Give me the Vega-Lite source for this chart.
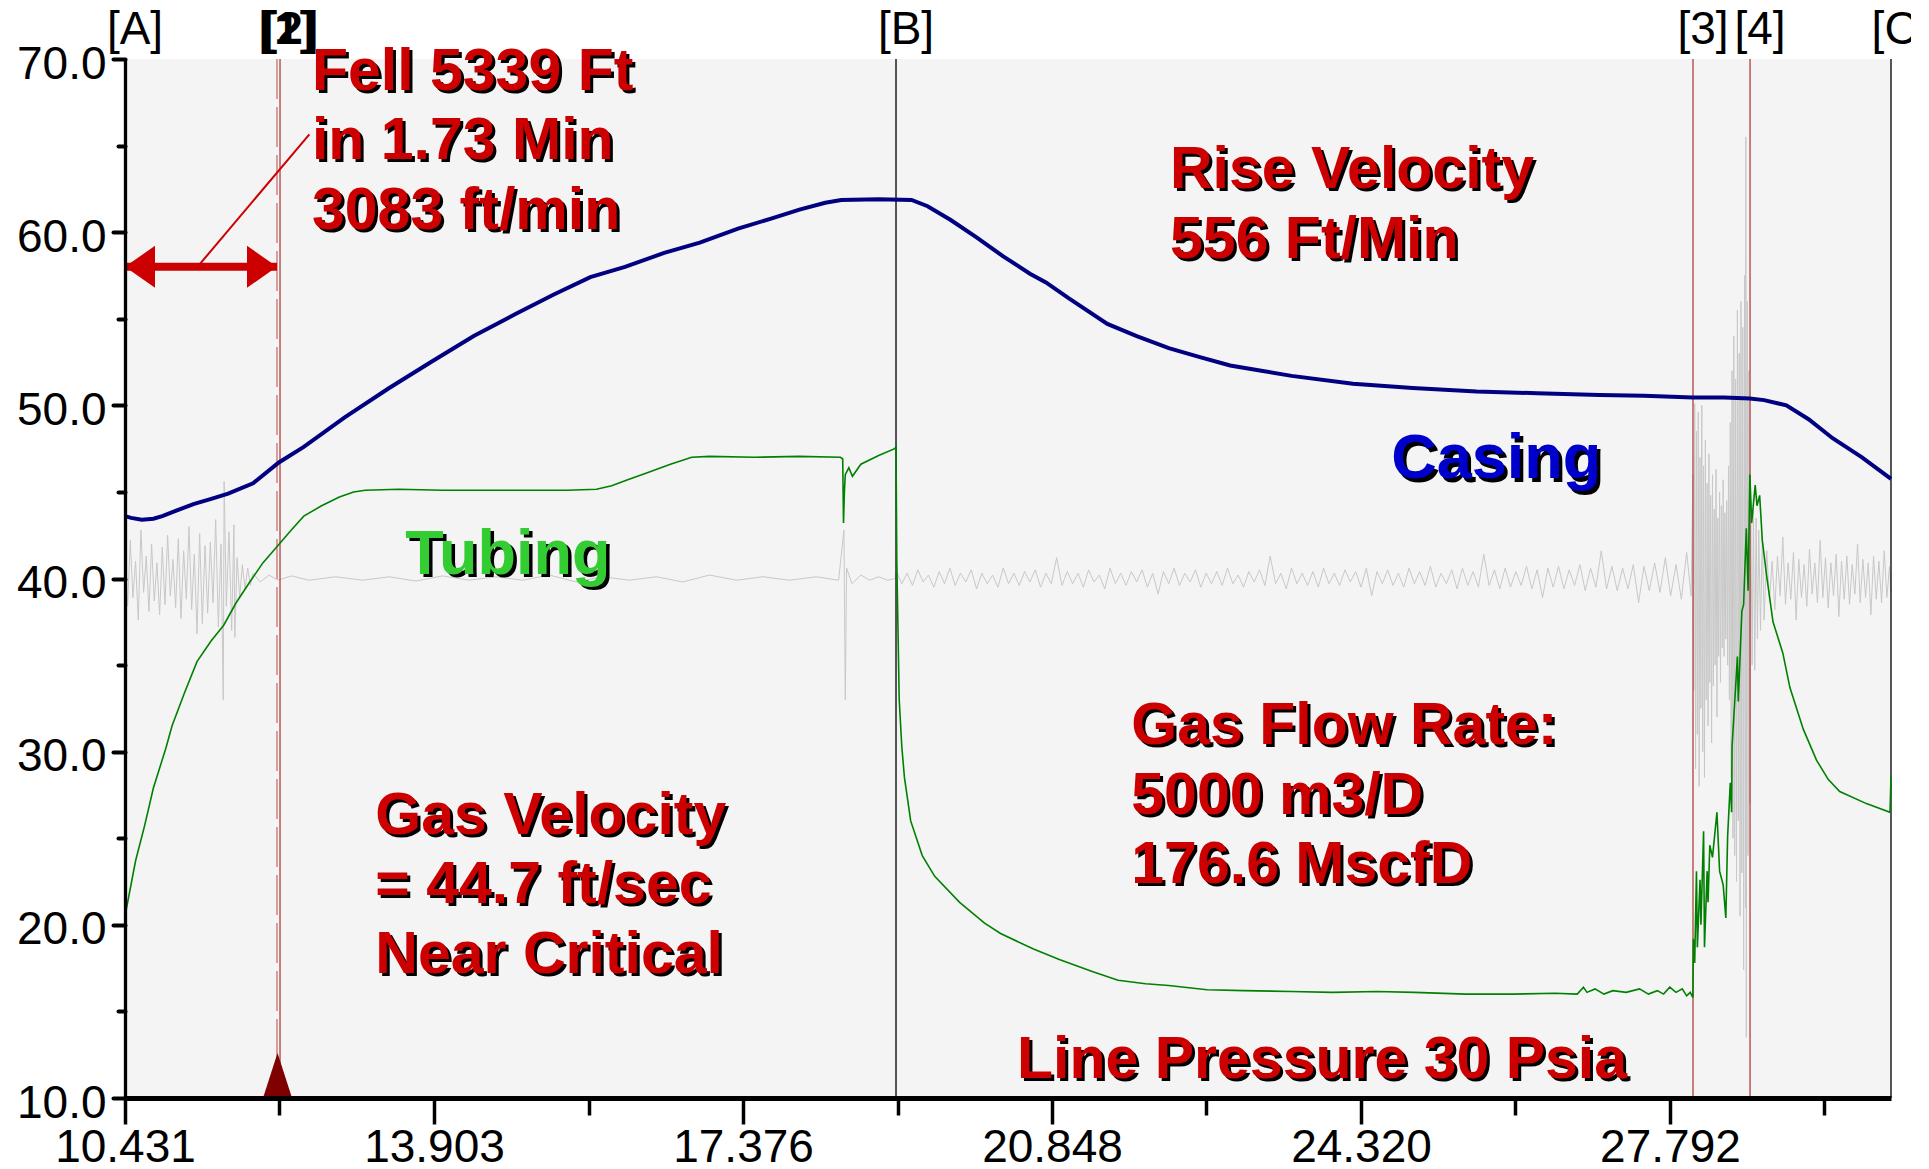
{
  "$schema": "https://vega.github.io/schema/vega-lite/v6.json",
  "width": 1766,
  "height": 1039,
  "autosize": {"type": "none"},
  "padding": {"left": 125, "top": 59, "right": 20, "bottom": 71},
  "background": "#ffffff",
  "config": {"view": {"fill": "#f4f4f4", "stroke": null}, "font": "Liberation Sans"},
  "datasets": {
    "gray": [
      {"t":10.431,"v":41.5},{"t":10.46,"v":38.4},{"t":10.49,"v":42.2},{"t":10.52,"v":38.9},{"t":10.55,"v":41.0},{"t":10.58,"v":37.6},{"t":10.61,"v":42.8},{"t":10.64,"v":39.2},{"t":10.67,"v":41.3},{"t":10.70,"v":38.1},{"t":10.73,"v":42.0},{"t":10.76,"v":38.7},{"t":10.79,"v":40.9},{"t":10.82,"v":37.9},{"t":10.85,"v":41.8},{"t":10.88,"v":38.5},{"t":10.91,"v":42.5},{"t":10.94,"v":39.0},{"t":10.97,"v":41.1},{"t":11.00,"v":38.3},{"t":11.03,"v":42.3},{"t":11.06,"v":37.7},{"t":11.09,"v":41.6},{"t":11.12,"v":38.8},{"t":11.15,"v":43.0},{"t":11.18,"v":38.2},{"t":11.21,"v":41.4},{"t":11.24,"v":36.8},{"t":11.27,"v":42.6},{"t":11.30,"v":37.4},{"t":11.33,"v":41.9},{"t":11.36,"v":38.0},{"t":11.39,"v":42.1},{"t":11.42,"v":38.6},{"t":11.45,"v":43.4},{"t":11.48,"v":37.2},{"t":11.51,"v":42.0},{"t":11.535,"v":33.0},{"t":11.545,"v":45.6},{"t":11.57,"v":38.4},{"t":11.60,"v":42.7},{"t":11.63,"v":37.0},{"t":11.655,"v":43.1},{"t":11.665,"v":36.6},{"t":11.69,"v":41.2},{"t":11.72,"v":38.9},{"t":11.75,"v":40.8},{"t":11.78,"v":39.4},{"t":11.81,"v":40.6},{"t":11.84,"v":39.6},{"t":11.87,"v":40.3},
      {"t":11.95,"v":39.8},{"t":12.05,"v":40.2},{"t":12.15,"v":39.9},{"t":12.3,"v":40.15},{"t":12.5,"v":39.9},{"t":12.8,"v":40.1},{"t":13.1,"v":39.9},{"t":13.4,"v":40.1},{"t":13.7,"v":39.85},{"t":14.0,"v":40.15},{"t":14.3,"v":39.9},{"t":14.6,"v":40.1},{"t":14.9,"v":39.9},{"t":15.2,"v":40.2},{"t":15.5,"v":39.8},{"t":15.8,"v":40.1},{"t":16.1,"v":39.9},{"t":16.4,"v":40.1},{"t":16.7,"v":39.8},{"t":17.0,"v":40.2},{"t":17.3,"v":39.9},{"t":17.6,"v":40.1},{"t":17.9,"v":39.9},{"t":18.2,"v":40.1},{"t":18.45,"v":39.9},{"t":18.51,"v":42.8},{"t":18.525,"v":33.0},{"t":18.54,"v":40.6},{"t":18.6,"v":39.7},{"t":18.7,"v":40.2},{"t":18.8,"v":39.9},{"t":18.9,"v":40.1},{"t":19.0,"v":39.9},{"t":19.09,"v":40.0},
      {"t":19.10,"v":40.4},{"t":19.16,"v":39.7},{"t":19.22,"v":40.3},{"t":19.28,"v":39.6},{"t":19.34,"v":40.5},{"t":19.40,"v":39.8},{"t":19.46,"v":40.2},{"t":19.52,"v":39.5},{"t":19.58,"v":40.4},{"t":19.64,"v":39.7},{"t":19.70,"v":40.6},{"t":19.76,"v":39.6},{"t":19.82,"v":40.3},{"t":19.88,"v":39.8},{"t":19.94,"v":40.5},{"t":20.00,"v":39.4},{"t":20.06,"v":40.3},{"t":20.12,"v":39.7},{"t":20.18,"v":40.2},{"t":20.24,"v":39.5},{"t":20.30,"v":40.6},{"t":20.36,"v":39.7},{"t":20.42,"v":40.3},{"t":20.48,"v":39.6},{"t":20.54,"v":40.4},{"t":20.60,"v":39.8},{"t":20.66,"v":40.5},{"t":20.72,"v":39.5},{"t":20.78,"v":40.3},{"t":20.84,"v":39.7},{"t":20.90,"v":41.2},{"t":20.96,"v":39.6},{"t":21.02,"v":40.4},{"t":21.08,"v":39.7},{"t":21.14,"v":40.3},{"t":21.20,"v":39.5},{"t":21.26,"v":40.5},{"t":21.32,"v":39.8},{"t":21.38,"v":40.2},{"t":21.44,"v":39.4},{"t":21.50,"v":40.6},{"t":21.56,"v":39.7},{"t":21.62,"v":40.3},{"t":21.68,"v":39.6},{"t":21.74,"v":40.4},{"t":21.80,"v":39.8},{"t":21.86,"v":40.5},{"t":21.92,"v":39.5},{"t":21.98,"v":40.3},{"t":22.04,"v":39.1},{"t":22.10,"v":40.4},{"t":22.16,"v":39.7},{"t":22.22,"v":40.6},{"t":22.28,"v":39.6},{"t":22.34,"v":40.3},{"t":22.40,"v":39.8},{"t":22.46,"v":40.5},{"t":22.52,"v":39.5},{"t":22.58,"v":40.3},{"t":22.64,"v":39.7},{"t":22.70,"v":40.4},{"t":22.76,"v":39.6},{"t":22.82,"v":40.6},{"t":22.88,"v":39.7},{"t":22.94,"v":40.2},{"t":23.00,"v":39.5},{"t":23.06,"v":40.4},{"t":23.12,"v":39.8},{"t":23.18,"v":40.5},{"t":23.24,"v":39.6},{"t":23.30,"v":41.3},{"t":23.36,"v":39.7},{"t":23.42,"v":40.3},{"t":23.48,"v":39.4},{"t":23.54,"v":40.6},{"t":23.60,"v":39.7},{"t":23.66,"v":40.3},{"t":23.72,"v":39.6},{"t":23.78,"v":40.4},{"t":23.84,"v":39.5},{"t":23.90,"v":40.6},{"t":23.96,"v":39.7},{"t":24.02,"v":40.3},{"t":24.08,"v":39.6},{"t":24.14,"v":40.5},{"t":24.20,"v":39.8},{"t":24.26,"v":40.4},{"t":24.32,"v":39.5},{"t":24.38,"v":40.6},{"t":24.44,"v":39.0},{"t":24.50,"v":40.4},{"t":24.56,"v":39.7},{"t":24.62,"v":40.5},{"t":24.68,"v":39.6},{"t":24.74,"v":40.3},{"t":24.80,"v":39.5},{"t":24.86,"v":40.6},{"t":24.92,"v":39.7},{"t":24.98,"v":40.4},{"t":25.04,"v":39.6},{"t":25.10,"v":40.7},{"t":25.16,"v":39.5},{"t":25.22,"v":40.3},{"t":25.28,"v":39.7},{"t":25.34,"v":40.5},{"t":25.40,"v":39.4},{"t":25.46,"v":40.6},{"t":25.52,"v":39.6},{"t":25.58,"v":40.4},{"t":25.64,"v":39.5},{"t":25.70,"v":41.4},{"t":25.76,"v":39.6},{"t":25.82,"v":40.5},{"t":25.88,"v":39.4},{"t":25.94,"v":40.6},{"t":26.00,"v":39.5},{"t":26.06,"v":40.4},{"t":26.12,"v":39.6},{"t":26.18,"v":40.7},{"t":26.24,"v":39.4},{"t":26.30,"v":40.5},{"t":26.36,"v":38.9},{"t":26.42,"v":40.6},{"t":26.48,"v":39.5},{"t":26.54,"v":40.7},{"t":26.60,"v":39.4},{"t":26.66,"v":40.5},{"t":26.72,"v":39.6},{"t":26.78,"v":40.8},{"t":26.84,"v":39.3},{"t":26.90,"v":40.6},{"t":26.96,"v":39.5},{"t":27.02,"v":41.6},{"t":27.08,"v":39.4},{"t":27.14,"v":40.7},{"t":27.20,"v":39.3},{"t":27.26,"v":40.6},{"t":27.32,"v":39.4},{"t":27.38,"v":40.8},{"t":27.44,"v":38.6},{"t":27.50,"v":40.7},{"t":27.56,"v":39.3},{"t":27.62,"v":40.9},{"t":27.68,"v":39.2},{"t":27.74,"v":41.2},{"t":27.80,"v":39.0},{"t":27.86,"v":40.8},{"t":27.92,"v":38.8},{"t":27.98,"v":41.5},{"t":28.03,"v":39.0},
      {"t":28.05,"v":46.0},{"t":28.06,"v":33.5},{"t":28.07,"v":50.1},{"t":28.08,"v":29.0},{"t":28.09,"v":48.5},{"t":28.10,"v":31.0},{"t":28.11,"v":49.6},{"t":28.12,"v":28.0},{"t":28.13,"v":47.0},{"t":28.14,"v":32.5},{"t":28.15,"v":50.0},{"t":28.16,"v":30.0},{"t":28.17,"v":46.5},{"t":28.18,"v":28.5},{"t":28.19,"v":48.0},{"t":28.20,"v":33.0},{"t":28.21,"v":45.5},{"t":28.22,"v":31.5},{"t":28.23,"v":47.2},{"t":28.24,"v":34.0},{"t":28.25,"v":44.8},{"t":28.26,"v":30.5},{"t":28.27,"v":46.0},{"t":28.28,"v":33.8},{"t":28.29,"v":44.0},{"t":28.30,"v":35.0},{"t":28.31,"v":46.3},{"t":28.32,"v":32.0},{"t":28.33,"v":43.5},{"t":28.34,"v":35.5},{"t":28.35,"v":45.0},{"t":28.36,"v":34.0},{"t":28.37,"v":44.2},{"t":28.38,"v":36.0},{"t":28.39,"v":45.7},{"t":28.40,"v":35.5},{"t":28.41,"v":43.8},{"t":28.42,"v":36.5},{"t":28.43,"v":44.5},{"t":28.44,"v":35.0},{"t":28.45,"v":46.5},{"t":28.46,"v":33.0},{"t":28.47,"v":49.0},{"t":28.48,"v":28.5},{"t":28.49,"v":52.0},{"t":28.50,"v":25.0},{"t":28.51,"v":54.0},{"t":28.52,"v":24.0},{"t":28.53,"v":51.5},{"t":28.54,"v":22.5},{"t":28.55,"v":55.5},{"t":28.56,"v":26.0},{"t":28.57,"v":53.0},{"t":28.58,"v":20.5},{"t":28.59,"v":56.0},{"t":28.60,"v":23.0},{"t":28.61,"v":54.5},{"t":28.62,"v":17.4},{"t":28.63,"v":57.5},{"t":28.64,"v":21.0},{"t":28.645,"v":65.5},{"t":28.65,"v":13.5},{"t":28.66,"v":56.0},{"t":28.67,"v":24.0},{"t":28.68,"v":52.0},{"t":28.69,"v":27.0},
      {"t":28.70,"v":44.5},{"t":28.715,"v":35.0},{"t":28.73,"v":44.0},{"t":28.745,"v":34.7},{"t":28.76,"v":43.5},{"t":28.775,"v":36.5},{"t":28.79,"v":42.8},{"t":28.81,"v":37.0},{"t":28.83,"v":42.5},{"t":28.85,"v":37.6},
      {"t":28.88,"v":41.6},{"t":28.91,"v":38.7},{"t":28.94,"v":41.0},{"t":28.97,"v":38.2},{"t":29.00,"v":41.3},{"t":29.03,"v":39.0},{"t":29.06,"v":42.4},{"t":29.09,"v":38.5},{"t":29.12,"v":40.9},{"t":29.15,"v":38.8},{"t":29.18,"v":41.5},{"t":29.21,"v":37.6},{"t":29.24,"v":41.1},{"t":29.27,"v":38.9},{"t":29.30,"v":40.8},{"t":29.33,"v":38.4},{"t":29.36,"v":41.7},{"t":29.39,"v":39.1},{"t":29.42,"v":40.9},{"t":29.45,"v":38.6},{"t":29.48,"v":42.2},{"t":29.51,"v":38.9},{"t":29.54,"v":41.2},{"t":29.57,"v":38.3},{"t":29.60,"v":40.9},{"t":29.63,"v":39.0},{"t":29.66,"v":41.4},{"t":29.69,"v":37.8},{"t":29.72,"v":41.0},{"t":29.75,"v":38.8},{"t":29.78,"v":41.3},{"t":29.81,"v":38.5},{"t":29.84,"v":40.8},{"t":29.87,"v":39.1},{"t":29.90,"v":42.0},{"t":29.93,"v":38.6},{"t":29.96,"v":41.1},{"t":29.99,"v":38.9},{"t":30.02,"v":40.9},{"t":30.05,"v":37.9},{"t":30.08,"v":41.3},{"t":30.11,"v":38.8},{"t":30.14,"v":41.0},{"t":30.17,"v":38.6},{"t":30.20,"v":41.6},{"t":30.23,"v":38.9},{"t":30.26,"v":40.7},{"t":30.276,"v":39.2}
    ],
    "green": [
      {"t":10.431,"v":20.5},{"t":10.55,"v":23.7},{"t":10.65,"v":25.7},{"t":10.75,"v":27.9},{"t":10.89,"v":30.2},{"t":10.96,"v":31.5},{"t":11.1,"v":33.4},{"t":11.24,"v":35.2},{"t":11.4,"v":36.4},{"t":11.54,"v":37.3},{"t":11.68,"v":38.6},{"t":11.82,"v":39.7},{"t":11.98,"v":40.9},{"t":12.15,"v":41.9},{"t":12.3,"v":42.8},{"t":12.44,"v":43.6},{"t":12.64,"v":44.2},{"t":12.84,"v":44.7},{"t":13.0,"v":45.0},{"t":13.13,"v":45.1},{"t":13.5,"v":45.15},{"t":14.0,"v":45.1},{"t":14.5,"v":45.1},{"t":15.0,"v":45.1},{"t":15.4,"v":45.1},{"t":15.73,"v":45.15},{"t":15.9,"v":45.35},{"t":16.08,"v":45.7},{"t":16.3,"v":46.1},{"t":16.56,"v":46.6},{"t":16.8,"v":47.0},{"t":17.0,"v":47.05},{"t":17.5,"v":47.0},{"t":18.0,"v":47.05},{"t":18.47,"v":47.0},{"t":18.496,"v":46.9},{"t":18.505,"v":43.2},{"t":18.515,"v":45.0},{"t":18.525,"v":46.0},{"t":18.565,"v":46.4},{"t":18.605,"v":45.9},{"t":18.70,"v":46.6},{"t":18.9,"v":47.1},{"t":19.08,"v":47.5},{"t":19.095,"v":47.6},{"t":19.104,"v":41.0},{"t":19.131,"v":33.0},{"t":19.16,"v":30.3},{"t":19.19,"v":28.5},{"t":19.26,"v":26.0},{"t":19.39,"v":24.0},{"t":19.53,"v":22.8},{"t":19.81,"v":21.3},{"t":20.09,"v":20.1},{"t":20.27,"v":19.5},{"t":20.64,"v":18.6},{"t":20.93,"v":18.0},{"t":21.3,"v":17.3},{"t":21.59,"v":16.8},{"t":21.9,"v":16.6},{"t":22.16,"v":16.5},{"t":22.59,"v":16.25},{"t":23.0,"v":16.2},{"t":23.54,"v":16.15},{"t":24.0,"v":16.1},{"t":24.5,"v":16.15},{"t":24.92,"v":16.1},{"t":25.5,"v":16.0},{"t":26.03,"v":16.0},{"t":26.5,"v":16.05},{"t":26.75,"v":16.0},{"t":26.82,"v":16.4},{"t":26.86,"v":16.1},{"t":26.95,"v":16.3},{"t":27.05,"v":16.0},{"t":27.15,"v":16.2},{"t":27.3,"v":16.1},{"t":27.45,"v":16.3},{"t":27.55,"v":16.0},{"t":27.65,"v":16.2},{"t":27.72,"v":16.0},{"t":27.79,"v":16.4},{"t":27.86,"v":16.1},{"t":27.93,"v":16.3},{"t":27.98,"v":15.9},{"t":28.02,"v":16.1},{"t":28.05,"v":15.8},
      {"t":28.055,"v":19.2},{"t":28.07,"v":17.8},{"t":28.09,"v":23.1},{"t":28.10,"v":18.7},{"t":28.13,"v":22.6},{"t":28.14,"v":20.0},{"t":28.17,"v":25.4},{"t":28.18,"v":18.7},{"t":28.21,"v":23.1},{"t":28.22,"v":21.3},{"t":28.24,"v":24.6},{"t":28.27,"v":23.9},{"t":28.32,"v":26.5},{"t":28.35,"v":23.1},{"t":28.39,"v":22.3},{"t":28.42,"v":20.4},{"t":28.44,"v":25.1},{"t":28.47,"v":28.2},{"t":28.485,"v":26.5},{"t":28.49,"v":30.3},{"t":28.52,"v":32.9},{"t":28.55,"v":35.5},{"t":28.56,"v":32.9},{"t":28.60,"v":38.1},{"t":28.62,"v":38.5},{"t":28.65,"v":42.9},{"t":28.67,"v":39.3},{"t":28.69,"v":46.0},{"t":28.71,"v":43.2},{"t":28.75,"v":45.4},{"t":28.77,"v":44.2},{"t":28.80,"v":44.8},{"t":28.83,"v":42.2},{"t":28.88,"v":40.1},{"t":28.95,"v":37.5},{"t":29.06,"v":35.7},{"t":29.14,"v":33.7},{"t":29.29,"v":31.3},{"t":29.44,"v":29.5},{"t":29.57,"v":28.4},{"t":29.70,"v":27.7},{"t":30.0,"v":27.0},{"t":30.265,"v":26.5},{"t":30.276,"v":28.6}
    ],
    "blue": [
      {"t":10.431,"v":43.6},{"t":10.5,"v":43.5},{"t":10.62,"v":43.4},{"t":10.75,"v":43.45},{"t":10.85,"v":43.6},{"t":11.0,"v":43.9},{"t":11.2,"v":44.3},{"t":11.4,"v":44.6},{"t":11.59,"v":44.9},{"t":11.87,"v":45.5},{"t":12.16,"v":46.7},{"t":12.44,"v":47.6},{"t":12.9,"v":49.3},{"t":13.4,"v":51.0},{"t":13.87,"v":52.5},{"t":14.35,"v":54.0},{"t":14.83,"v":55.3},{"t":15.25,"v":56.4},{"t":15.66,"v":57.4},{"t":16.05,"v":58.0},{"t":16.49,"v":58.8},{"t":16.89,"v":59.4},{"t":17.32,"v":60.2},{"t":17.7,"v":60.8},{"t":18.01,"v":61.3},{"t":18.3,"v":61.7},{"t":18.48,"v":61.86},{"t":18.9,"v":61.9},{"t":19.27,"v":61.86},{"t":19.45,"v":61.5},{"t":19.71,"v":60.7},{"t":20.0,"v":59.7},{"t":20.3,"v":58.6},{"t":20.6,"v":57.6},{"t":20.78,"v":57.1},{"t":21.03,"v":56.2},{"t":21.47,"v":54.7},{"t":21.8,"v":54.0},{"t":22.16,"v":53.3},{"t":22.5,"v":52.8},{"t":22.85,"v":52.3},{"t":23.2,"v":52.0},{"t":23.54,"v":51.7},{"t":24.23,"v":51.25},{"t":24.9,"v":51.0},{"t":25.62,"v":50.8},{"t":26.3,"v":50.7},{"t":27.0,"v":50.6},{"t":27.5,"v":50.55},{"t":28.05,"v":50.45},{"t":28.4,"v":50.45},{"t":28.69,"v":50.4},{"t":28.85,"v":50.3},{"t":29.1,"v":50.0},{"t":29.35,"v":49.2},{"t":29.62,"v":48.1},{"t":29.95,"v":47.0},{"t":30.276,"v":45.75}
    ],
    "markers": [
      {"t":10.431,"v":70,"v2":10,"label":"[A]","kind":"end"},
      {"t":12.139,"v":70,"v2":10,"label":"[1]","kind":"dash"},
      {"t":12.173,"v":70,"v2":10,"label":"[2]","kind":"event"},
      {"t":19.095,"v":70,"v2":10,"label":"[B]","kind":"end"},
      {"t":28.051,"v":70,"v2":10,"label":"[3]","kind":"event"},
      {"t":28.692,"v":70,"v2":10,"label":"[4]","kind":"event"},
      {"t":30.276,"v":70,"v2":10,"label":"[C]","kind":"end"}
    ],
    "arrow": [{"t":10.431,"t2":12.139,"v":58.0}],
    "heads": [{"t":10.431,"v":58.0,"dir":"left"},{"t":12.139,"v":58.0,"dir":"right"}],
    "leader": [{"t":11.269,"v":58.14,"t2":12.503,"v2":65.65}],
    "flag": [{"t":12.145,"v":10}],
    "notes": [
      {"t":12.532,"v":68.21,"kind":"note","text":["Fell 5339 Ft","in 1.73 Min","3083 ft/min"]},
      {"t":22.174,"v":62.55,"kind":"note","text":["Rise Velocity","556 Ft/Min"]},
      {"t":13.244,"v":25.25,"kind":"note","text":["Gas Velocity","= 44.7 ft/sec","Near Critical"]},
      {"t":21.739,"v":30.44,"kind":"note","text":["Gas Flow Rate:","5000 m3/D","176.6 MscfD"]},
      {"t":20.455,"v":11.16,"kind":"note","text":"Line Pressure 30 Psia"},
      {"t":24.66,"v":45.8,"kind":"casing","text":"Casing"},
      {"t":13.58,"v":40.26,"kind":"tubing","text":"Tubing"}
    ]
  },
  "encoding": {
    "x": {
      "field": "t", "type": "quantitative",
      "scale": {"domain": [10.431, 30.276], "nice": false, "zero": false},
      "axis": {
        "title": null, "grid": false,
        "values": [10.431, 12.167, 13.903, 15.6395, 17.376, 19.112, 20.848, 22.584, 24.32, 26.056, 27.792, 29.528],
        "labelExpr": "abs((datum.value - 10.431) / 3.4722 - round((datum.value - 10.431) / 3.4722)) < 0.1 ? format(datum.value, '.3f') : ''",
        "labelFont": "Liberation Sans", "labelFontSize": 46, "labelColor": "#000000",
        "labelPadding": 1, "labelFlush": false, "labelOverlap": false, "labelAngle": 0,
        "domainColor": "#000000", "domainWidth": 5,
        "tickColor": "#000000", "tickWidth": 3.5,
        "tickSize": {"condition": {"test": "abs((datum.value - 10.431) / 3.4722 - round((datum.value - 10.431) / 3.4722)) < 0.1", "value": 26}, "value": 17},
        "zindex": 1
      }
    },
    "y": {
      "field": "v", "type": "quantitative",
      "scale": {"domain": [10, 70], "nice": false, "zero": false},
      "axis": {
        "title": null, "grid": false,
        "values": [10, 15, 20, 25, 30, 35, 40, 45, 50, 55, 60, 65, 70],
        "labelExpr": "datum.value % 10 == 0 ? format(datum.value, '.1f') : ''",
        "labelFont": "Liberation Sans", "labelFontSize": 46, "labelColor": "#000000",
        "labelPadding": 7, "labelOffset": 5, "labelFlush": false, "labelOverlap": false,
        "domainColor": "#000000", "domainWidth": 3.3,
        "tickColor": "#000000", "tickWidth": 4, "tickCap": "round",
        "tickSize": {"condition": {"test": "datum.value % 10 == 0", "value": 12}, "value": 7},
        "zindex": 1
      }
    }
  },
  "layer": [
    {"data": {"name": "gray"}, "mark": {"type": "line", "color": "#c8c8c8", "strokeWidth": 1}},
    {
      "data": {"name": "markers"},
      "mark": {"type": "rule", "strokeWidth": 1.3},
      "encoding": {
        "y2": {"field": "v2"},
        "color": {"field": "kind", "type": "nominal", "scale": {"domain": ["end", "dash", "event"], "range": ["#000000", "#c87070", "#b04040"]}, "legend": null},
        "strokeDash": {"field": "kind", "type": "nominal", "scale": {"domain": ["end", "dash", "event"], "range": [[1, 0], [40, 8], [1, 0]]}, "legend": null}
      }
    },
    {"data": {"name": "green"}, "mark": {"type": "line", "color": "#008000", "strokeWidth": 1.6}},
    {"data": {"name": "blue"}, "mark": {"type": "line", "color": "#000080", "strokeWidth": 4}},
    {"data": {"name": "flag"}, "mark": {"type": "point", "filled": true, "size": 961, "opacity": 1, "color": "#800000", "shape": "M0,-2.9L1,0.2L-1,0.2Z"}},
    {"data": {"name": "arrow"}, "mark": {"type": "rule", "color": "#cc0000", "strokeWidth": 8}, "encoding": {"x2": {"field": "t2"}}},
    {
      "data": {"name": "heads"},
      "mark": {"type": "point", "filled": true, "size": 900, "opacity": 1, "color": "#cc0000"},
      "encoding": {"shape": {"field": "dir", "type": "nominal", "scale": {"domain": ["left", "right"], "range": ["M0,0L2,-1.4L2,1.4Z", "M0,0L-2,-1.4L-2,1.4Z"]}, "legend": null}}
    },
    {"data": {"name": "leader"}, "mark": {"type": "rule", "color": "#cc0000", "strokeWidth": 2}, "encoding": {"x2": {"field": "t2"}, "y2": {"field": "v2"}}},
    {
      "data": {"name": "markers"},
      "transform": [{"filter": "indexof(['[1]','[2]'], datum.label) < 0"}],
      "mark": {"type": "text", "font": "Liberation Sans", "fontSize": 46, "align": "center", "baseline": "alphabetic", "dx": 10, "dy": -15.5, "color": "#000000"},
      "encoding": {"text": {"field": "label", "type": "nominal"}}
    },
    {
      "data": {"name": "markers"},
      "transform": [{"filter": "indexof(['[1]','[2]'], datum.label) >= 0"}],
      "mark": {"type": "text", "font": "Liberation Sans", "fontWeight": "bold", "fontSize": 46, "align": "center", "baseline": "alphabetic", "dx": 10, "dy": -15.5, "color": "#000000"},
      "encoding": {"text": {"field": "label", "type": "nominal"}}
    },
    {
      "data": {"name": "notes"}, "transform": [{"filter": "datum.kind == 'note'"}],
      "mark": {"type": "text", "font": "Liberation Sans", "fontWeight": "bold", "fontSize": 59, "align": "left", "baseline": "alphabetic", "lineHeight": 69.5, "dx": 3, "dy": 3, "color": "#000000"},
      "encoding": {"text": {"field": "text", "type": "nominal"}}
    },
    {
      "data": {"name": "notes"}, "transform": [{"filter": "datum.kind == 'note'"}],
      "mark": {"type": "text", "font": "Liberation Sans", "fontWeight": "bold", "fontSize": 59, "align": "left", "baseline": "alphabetic", "lineHeight": 69.5, "color": "#cc0000"},
      "encoding": {"text": {"field": "text", "type": "nominal"}}
    },
    {
      "data": {"name": "notes"}, "transform": [{"filter": "datum.kind == 'casing'"}],
      "mark": {"type": "text", "font": "Liberation Sans", "fontWeight": "bold", "fontSize": 63, "align": "left", "baseline": "alphabetic", "dx": 3.5, "dy": 3.5, "color": "#000000"},
      "encoding": {"text": {"field": "text", "type": "nominal"}}
    },
    {
      "data": {"name": "notes"}, "transform": [{"filter": "datum.kind == 'casing'"}],
      "mark": {"type": "text", "font": "Liberation Sans", "fontWeight": "bold", "fontSize": 63, "align": "left", "baseline": "alphabetic", "color": "#0000cc"},
      "encoding": {"text": {"field": "text", "type": "nominal"}}
    },
    {
      "data": {"name": "notes"}, "transform": [{"filter": "datum.kind == 'tubing'"}],
      "mark": {"type": "text", "font": "Liberation Sans", "fontWeight": "bold", "fontSize": 63, "align": "left", "baseline": "alphabetic", "dx": 3.5, "dy": 3.5, "color": "#000000"},
      "encoding": {"text": {"field": "text", "type": "nominal"}}
    },
    {
      "data": {"name": "notes"}, "transform": [{"filter": "datum.kind == 'tubing'"}],
      "mark": {"type": "text", "font": "Liberation Sans", "fontWeight": "bold", "fontSize": 63, "align": "left", "baseline": "alphabetic", "color": "#33cc33"},
      "encoding": {"text": {"field": "text", "type": "nominal"}}
    }
  ]
}
